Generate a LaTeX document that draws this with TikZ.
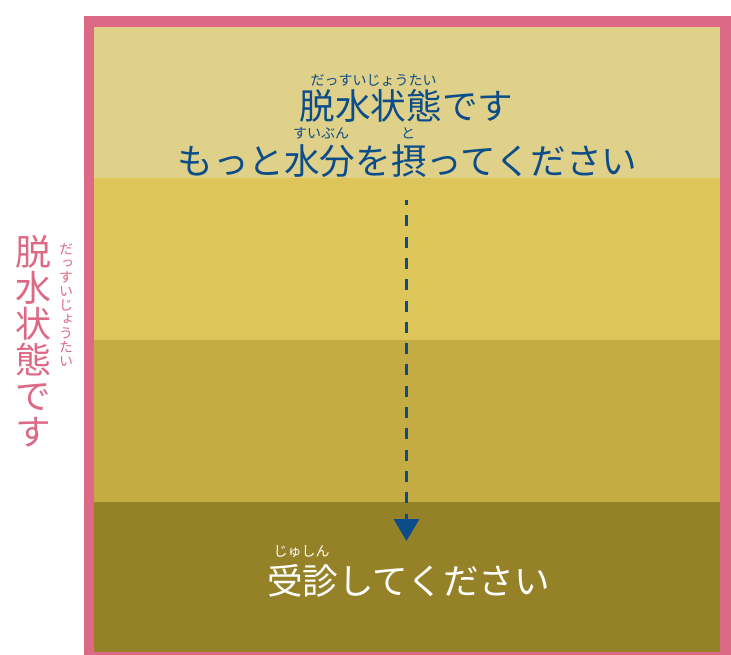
\documentclass[tikz,border=0pt]{standalone}
\usepackage{fontspec}
\newfontfamily\jp{Noto Sans CJK JP}
\newfontfamily\jpv[RawFeature=+vert]{Noto Sans CJK JP}
\usetikzlibrary{arrows.meta}
\definecolor{pinkb}{RGB}{220,106,134}
\definecolor{bandA}{RGB}{223,208,138}
\definecolor{bandB}{RGB}{221,197,90}
\definecolor{bandC}{RGB}{196,171,66}
\definecolor{bandD}{RGB}{149,130,40}
\definecolor{navy}{RGB}{12,76,136}
\tikzset{
  band/.style={draw=none, inner sep=0pt, minimum width=626pt, anchor=north west},
  bigtxt/.style={inner sep=0pt, font=\jp\fontsize{35.6}{36}\selectfont},
  rubytxt/.style={inner sep=0pt, font=\jp\fontsize{14}{14}\selectfont},
  vbig/.style={inner sep=0pt, align=center, font=\jpv\fontsize{36}{36}\selectfont, text=pinkb},
  vruby/.style={inner sep=0pt, align=center, font=\jpv\fontsize{14}{14}\selectfont, text=pinkb},
  flowarrow/.style={navy, line width=3.5pt, dash pattern=on 11pt off 10.3pt, dash phase=6pt, -{Triangle[width=25pt,length=22pt]}}
}
\begin{document}
\begin{tikzpicture}[x=1pt,y=-1pt]
\useasboundingbox (0,0) rectangle (731,655);
\clip (0,0) rectangle (731,655);
\fill[white] (0,0) rectangle (731,655);
% bands
\node[band, fill=bandA, minimum height=151pt] (b1) at (94,27) {};
\node[band, fill=bandB, minimum height=162pt] (b2) at (94,178) {};
\node[band, fill=bandC, minimum height=162pt] (b3) at (94,340) {};
\node[band, fill=bandD, minimum height=152pt] (b4) at (94,502) {};
% frame
\draw[pinkb, line width=10.5pt] (89,21.75) rectangle (725.5,657.5);
% top texts
\node[rubytxt, text=navy] (r1) at (373.5,80) {だっすいじょうたい};
\node[bigtxt, text=navy] (t1) at (406.5,106) {脱水状態です};
\node[rubytxt, text=navy] (r2) at (321,133) {すいぶん};
\node[rubytxt, text=navy] (r3) at (408,133) {と};
\node[bigtxt, text=navy] (t2) at (407.5,161) {もっと水分を摂ってください};
% bottom texts
\node[rubytxt, text=white] (r4) at (301.5,552) {じゅしん};
\node[bigtxt, text=white] (t3) at (408.5,581) {受診してください};
% left vertical
\node[vbig] (v1) at (33,341) {脱\\水\\状\\態\\で\\す};
\node[vruby] (v2) at (66,305) {だ\\っ\\す\\い\\じ\\ょ\\う\\た\\い};
% arrow
\coordinate (as) at (406.5,200);
\coordinate (ae) at (406.5,541);
\draw[flowarrow] (as) -- (ae);
\end{tikzpicture}
\end{document}
